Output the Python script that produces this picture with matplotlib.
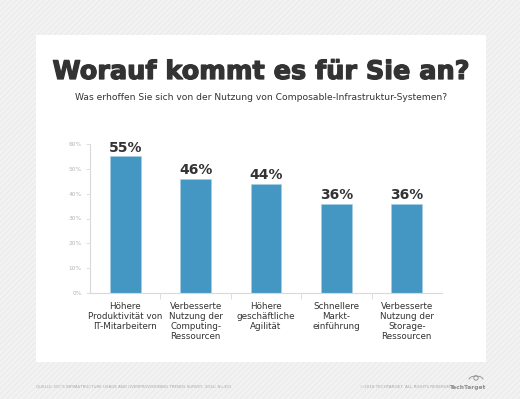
import matplotlib
matplotlib.use("Agg")
import matplotlib.pyplot as plt
import matplotlib.patheffects as pe
from matplotlib.patches import Rectangle, Circle, Arc
import numpy as np

# ---- data ----
categories = ["Höhere\nProduktivität von\nIT-Mitarbeitern",
              "Verbesserte\nNutzung der\nComputing-\nRessourcen",
              "Höhere\ngeschäftliche\nAgilität",
              "Schnellere\nMarkt-\neinführung",
              "Verbesserte\nNutzung der\nStorage-\nRessourcen"]
values = [55, 46, 44, 36, 36]
yticks = [0, 10, 20, 30, 40, 50, 60]

BAR = "#4597c3"; INK = "#333333"; GRID = "#d9d9d9"; TICK = "#b5b5b5"

W, H = 520, 399
plt.rcParams["hatch.linewidth"] = 0.5
fig = plt.figure(figsize=(W / 100, H / 100), dpi=100)
fig.patch.set_facecolor("#f2f2f2")

# striped background + white card
bg = fig.add_axes([0, 0, 1, 1]); bg.axis("off")
bg.set_xlim(0, W); bg.set_ylim(H, 0)
bg.add_patch(Rectangle((0, 0), W, H, fc="#f2f2f2", ec="#e7e7e7", lw=0, hatch="//////"))
bg.add_patch(Rectangle((36, 35), 450, 327, fc="white", ec="none"))

bg.text(261, 72, "Worauf kommt es für Sie an?", ha="center", va="center",
        fontsize=18.4, fontweight="bold", color=INK,
        path_effects=[pe.withStroke(linewidth=0.9, foreground=INK)])
bg.text(261, 98, "Was erhoffen Sie sich von der Nutzung von Composable-Infrastruktur-Systemen?",
        ha="center", va="center", fontsize=6.6, color=INK)

bg.text(36, 387, "QUELLE: IDC'S INFRASTRUCTURE USAGE AND OVERPROVISIONING TRENDS SURVEY, 2016; N=301",
        ha="left", va="center", fontsize=2.9, color="#a8a8a8")
bg.text(452, 387, "©2018 TECHTARGET. ALL RIGHTS RESERVED", ha="right", va="center",
        fontsize=3.0, color="#a8a8a8")
bg.text(486, 387, "TechTarget", ha="right", va="center", fontsize=4.2, fontweight="bold",
        color="#8c8c8c")
bg.add_patch(Circle((476, 378), 2.2, fc="none", ec="#8c8c8c", lw=0.6))
bg.add_patch(Arc((476, 379.5), 14, 7, theta1=180, theta2=360, ec="#8c8c8c", lw=0.6))

# bar chart
ax = fig.add_axes([90 / W, 1 - 293 / H, 352 / W, 149 / H])
x = np.arange(len(values))
ax.bar(x, values, width=0.44, color=BAR, edgecolor="#a9cfe4", linewidth=0.4)
for i, v in enumerate(values):
    ax.text(i, v + 0.6, f"{v}%", ha="center", va="bottom", fontsize=10,
            fontweight="bold", color=INK)
for i, c in enumerate(categories):
    ax.text(i, -3.5, c, ha="center", va="top", fontsize=6.3, color=INK,
            linespacing=1.15)

ax.set_xlim(-0.5, 4.5)
ax.set_ylim(0, 60)
ax.set_yticks(yticks)
ax.set_yticklabels([f"{t}%" for t in yticks], fontsize=4.2, color=TICK)
ax.set_xticks(x[:-1] + 0.5)
ax.set_xticklabels([])
ax.tick_params(axis="y", length=3, width=0.6, color=GRID, pad=3)
ax.tick_params(axis="x", length=4, width=0.6, color=GRID, direction="out")
for s in ["top", "right"]:
    ax.spines[s].set_visible(False)
ax.spines["left"].set_color(GRID)
ax.spines["bottom"].set_color(GRID)
ax.spines["left"].set_linewidth(0.8)
ax.spines["bottom"].set_linewidth(0.8)
ax.patch.set_alpha(0)

fig.savefig("out.png", dpi=100)
